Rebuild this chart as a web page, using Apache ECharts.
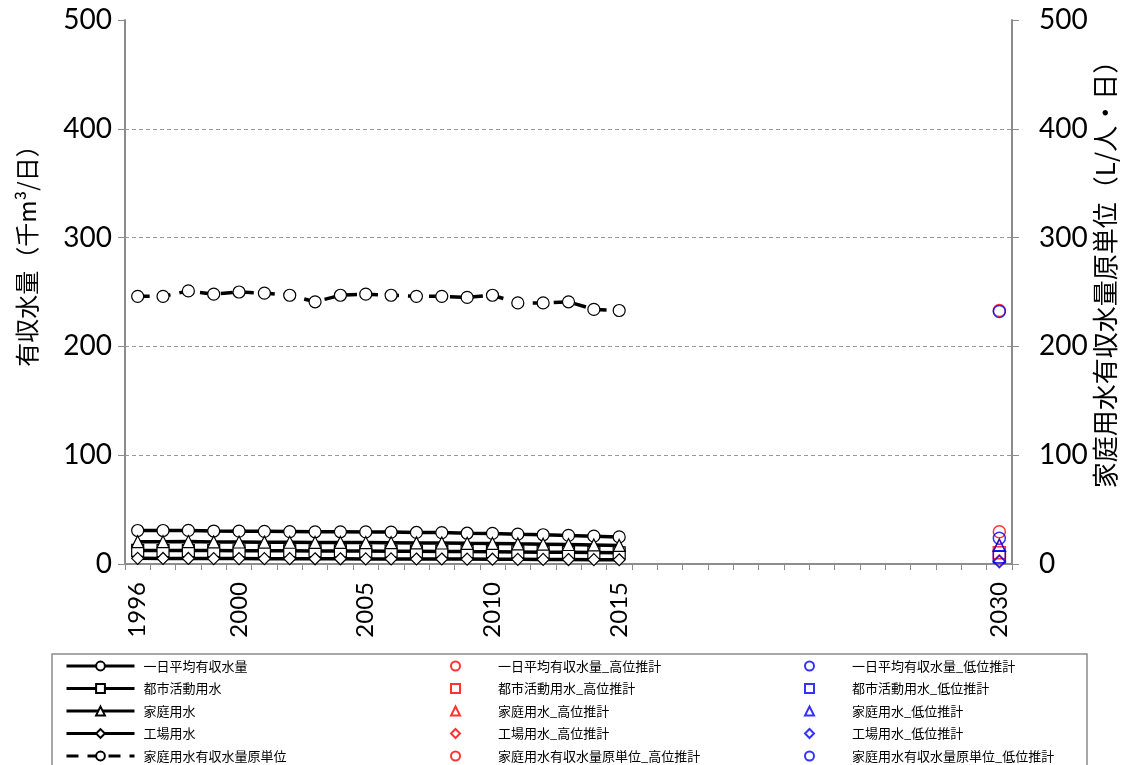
<!DOCTYPE html>
<html>
<head>
<meta charset="utf-8">
<script src="https://cdn.jsdelivr.net/npm/echarts@6/dist/echarts.min.js"></script>
<style>
html,body{margin:0;padding:0;background:#fff;}
#chart{width:1122px;height:765px;}
</style>
</head>
<body>
<div id="chart"></div>
<script>
// ---- data ----
var years = ['1996','1997','1998','1999','2000','2001','2002','2003','2004','2005',
             '2006','2007','2008','2009','2010','2011','2012','2013','2014','2015',
             '2016','2017','2018','2019','2020','2021','2022','2023','2024','2025',
             '2026','2027','2028','2029','2030'];
var labelYears = ['1996','2000','2005','2010','2015','2030'];
var forecastYear = '2030';

var dailyAvg   = [30.8,30.8,30.9,30.3,30.2,30.0,29.8,29.6,29.6,29.5,29.3,29.0,28.9,28.3,28.1,27.4,26.9,26.3,25.6,24.9];
var urbanUse   = [12.5,12.4,12.4,12.3,12.2,12.2,12.1,12.0,12.0,11.9,11.8,11.7,11.6,11.4,11.3,11.1,10.9,10.7,10.5,10.3];
var houseUse   = [20.5,20.5,20.6,20.3,20.2,20.1,20.0,19.8,19.8,19.7,19.6,19.4,19.3,19.0,18.9,18.5,18.2,17.9,17.5,17.1];
var factoryUse = [5.2,5.1,5.1,5.0,5.0,4.9,4.9,4.8,4.8,4.7,4.7,4.6,4.6,4.5,4.4,4.3,4.2,4.1,4.0,3.9];
var houseUnit  = [246,246,251,248,250,249,247,241,247,248,247,246,246,245,247,240,240,241,234,233];

var highForecast = {dailyAvg: 29.7, urbanUse: 10.4, houseUse: 17.2, factoryUse: 3.0, houseUnit: 233};
var lowForecast  = {dailyAvg: 23.6, urbanUse: 6.7,  houseUse: 17.2, factoryUse: 2.1, houseUnit: 232};

var names = ['一日平均有収水量','都市活動用水','家庭用水','工場用水','家庭用水有収水量原単位'];
var highNames = names.map(function(n){return n + '_高位推計';});
var lowNames  = names.map(function(n){return n + '_低位推計';});

var yTicks = {min: 0, max: 500, interval: 100};

// ---- chart ----
var numFont = 'Lato';
var jpFont = '"Noto Sans CJK JP"';
var chart = echarts.init(document.getElementById('chart'), null, {renderer: 'canvas'});

function lineSeries(name, data, symbol, yIdx, dashed) {
  return {
    name: name, type: 'line', data: data, yAxisIndex: yIdx,
    symbol: symbol, symbolSize: 12, showAllSymbol: true,
    lineStyle: {color: '#000', width: 3.5, type: dashed ? [12, 9] : 'solid'},
    itemStyle: {color: '#fff', borderColor: '#000', borderWidth: 1.2},
    emphasis: {disabled: true}, animation: false
  };
}
function pointSeries(name, value, symbol, yIdx, col) {
  return {
    name: name, type: 'scatter', yAxisIndex: yIdx,
    data: [[forecastYear, value]],
    symbol: symbol, symbolSize: 12, symbolKeepAspect: true,
    itemStyle: {color: 'rgba(255,255,255,0)', borderColor: col, borderWidth: 1.5},
    emphasis: {disabled: true}, animation: false
  };
}
var symbols = ['circle','rect','triangle','diamond','circle'];
var keys = ['dailyAvg','urbanUse','houseUse','factoryUse','houseUnit'];
var mainData = [dailyAvg, urbanUse, houseUse, factoryUse, houseUnit];

var series = [];
for (var i = 0; i < 5; i++) series.push(lineSeries(names[i], mainData[i], symbols[i], i === 4 ? 1 : 0, i === 4));
for (var i = 0; i < 5; i++) series.push(pointSeries(highNames[i], highForecast[keys[i]], symbols[i], i === 4 ? 1 : 0, '#FF0000'));
for (var i = 0; i < 5; i++) series.push(pointSeries(lowNames[i], lowForecast[keys[i]], symbols[i], i === 4 ? 1 : 0, '#0000FF'));

function legendCol(left, data, itemWidth, itemHeight, textPad) {
  return {
    orient: 'vertical', left: left, top: 659, height: 120, padding: 0, data: data,
    itemWidth: itemWidth, itemHeight: itemHeight, itemGap: 8.5,
    selectedMode: false,
    lineStyle: {width: 3},
    textStyle: {fontFamily: jpFont, fontSize: 13, color: '#000', lineHeight: 14, padding: [0,0,0,textPad]}
  };
}

var axisGrey = '#8c8c8c';
function yAxis(pos) {
  return {
    type: 'value', position: pos, min: yTicks.min, max: yTicks.max, interval: yTicks.interval,
    axisLine: {show: true, lineStyle: {color: axisGrey, width: 2}},
    axisTick: {show: true, length: 7, lineStyle: {color: axisGrey, width: 1}},
    axisLabel: {color: '#000', fontFamily: numFont, fontSize: 28, margin: pos === 'left' ? 13 : 27},
    splitLine: pos === 'left' ? {show: true, showMinLine: false, showMaxLine: false,
      lineStyle: {color: '#999', type: [4, 3], width: 1}} : {show: false}
  };
}

var option = {
  backgroundColor: '#fff',
  animation: false,
  grid: {left: 125, right: 110, top: 20, bottom: 201},
  xAxis: {
    type: 'category', data: years, boundaryGap: true,
    axisLine: {lineStyle: {color: axisGrey, width: 2}},
    axisTick: {show: true, interval: 0, length: 6, lineStyle: {color: axisGrey, width: 1}},
    axisLabel: {
      rotate: 90, margin: 18, color: '#000', fontFamily: numFont, fontSize: 24,
      interval: function(idx, val){ return labelYears.indexOf(val) >= 0; }
    },
    splitLine: {show: false}
  },
  yAxis: [yAxis('left'), yAxis('right')],
  legend: [
    legendCol(65, names, 68, 11, 4),
    legendCol(450, highNames, 9, 9, 33),
    legendCol(804, lowNames, 9, 9, 33)
  ],
  graphic: [
    {type: 'rect', z: -1, shape: {x: 52, y: 654, width: 1035, height: 130},
     style: {fill: 'none', stroke: '#8c8c8c', lineWidth: 1.5}},
    {type: 'text', x: 27, y: 250, rotation: Math.PI / 2,
     style: {text: '有収水量（千m³/日）', font: '24px "Noto Sans CJK JP"', fill: '#000', align: 'center', verticalAlign: 'middle'}},
    {type: 'text', x: 1105, y: 268, rotation: Math.PI / 2,
     style: {text: '家庭用水有収水量原単位（L/人・日）', font: '26px "Noto Sans CJK JP"', fill: '#000', align: 'center', verticalAlign: 'middle'}}
  ],
  series: series
};
chart.setOption(option);
</script>
</body>
</html>
